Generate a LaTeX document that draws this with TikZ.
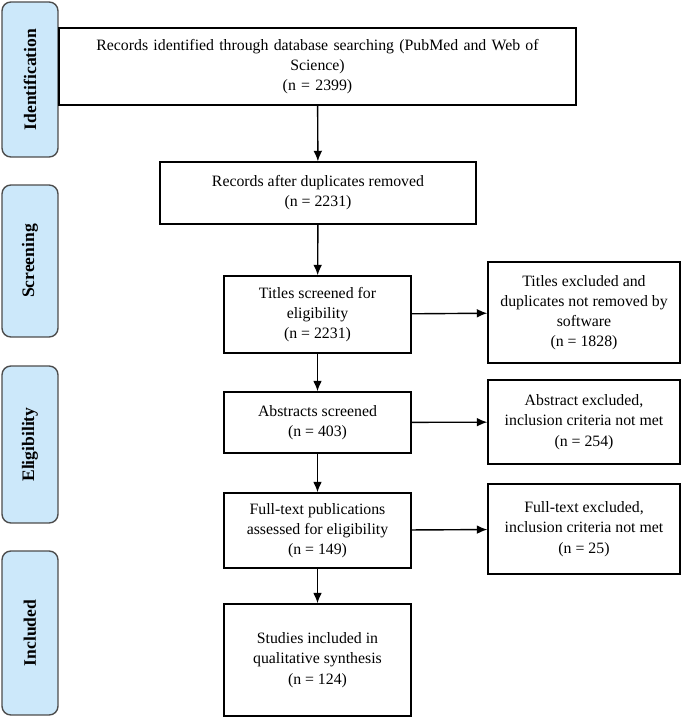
\documentclass[tikz,border=0pt]{standalone}
\usepackage{fontspec}
\setmainfont{Liberation Serif}
\usetikzlibrary{arrows.meta}
\definecolor{phase}{RGB}{204,232,250}
\begin{document}
\begin{tikzpicture}[x=0.02cm,y=-0.02cm,
  box/.style={draw=black, thick, align=center, inner sep=2pt, font={\fontsize{9}{11.5}\selectfont}},
  side/.style={draw=black!70, thick, fill=phase, rounded corners=5pt, minimum height=1.12cm, rotate=90, font={\fontsize{10}{12}\selectfont\bfseries}},
  arr/.style={-{Latex[length=6pt,width=5pt]}, thick}]
\useasboundingbox (0,0) rectangle (685,717);

% phase labels
\node [side, minimum width=3.1cm] (sIdent) at (30,79.5) {Identification};
\node [side, minimum width=3.04cm] (sScreen) at (30,261) {Screening};
\node [side, minimum width=3.14cm] (sElig) at (30,444.5) {Eligibility};
\node [side, minimum width=3.28cm] (sIncl) at (30,633) {Included};

% main column
\node [box, minimum width=10.3cm, minimum height=1.54cm, text width=10.2cm] (rec) at (317.5,66.5) {Records identified through database searching (PubMed and Web of\\Science)\\(n = 2399)};
\node [box, minimum width=6.32cm, minimum height=1.24cm] (dup) at (318,193) {Records after duplicates removed\\(n = 2231)};
\node [box, minimum width=3.74cm, minimum height=1.54cm] (title) at (317.5,314.5) {Titles screened for\\eligibility\\(n = 2231)};
\node [box, minimum width=3.74cm, minimum height=1.22cm] (abs) at (317.5,422.5) {Abstracts screened\\(n = 403)};
\node [box, minimum width=3.74cm, minimum height=1.5cm] (full) at (317.5,530.5) {Full-text publications\\assessed for eligibility\\(n = 149)};
\node [box, minimum width=3.74cm, minimum height=2.24cm] (incl) at (317.5,660) {Studies included in\\qualitative synthesis\\(n = 124)};

% exclusions
\node [box, minimum width=3.84cm, minimum height=2.02cm] (exT) at (584,312.5) {Titles excluded and\\duplicates not removed by\\software\\(n = 1828)};
\node [box, minimum width=3.84cm, minimum height=1.68cm] (exA) at (584,422) {Abstract excluded,\\inclusion criteria not met\\(n = 254)};
\node [box, minimum width=3.84cm, minimum height=1.8cm] (exF) at (584,529) {Full-text excluded,\\inclusion criteria not met\\(n = 25)};

\draw [arr] (rec) -- (dup);
\draw [arr] (dup) -- (title);
\draw [arr] (title) -- (abs);
\draw [arr] (abs) -- (full);
\draw [arr] (full) -- (incl);
\draw [arr] (title) -- (exT);
\draw [arr] (abs) -- (exA);
\draw [arr] (full) -- (exF);
\end{tikzpicture}
\end{document}
